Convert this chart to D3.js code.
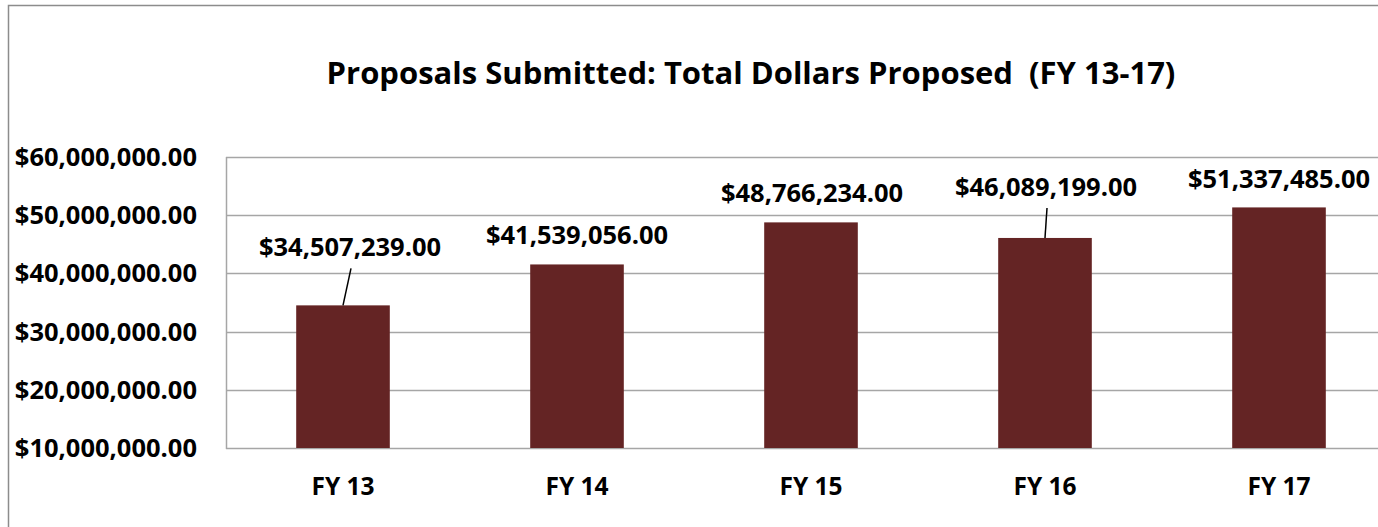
<!DOCTYPE html>
<html>
<head>
<meta charset="utf-8">
<script src="https://d3js.org/d3.v7.min.js"></script>
<style>
  body { margin: 0; background: #fff; }
  text { font-family: "Open Sans", "Noto Sans", sans-serif; font-weight: bold; fill: #000; }
</style>
</head>
<body>
<div id="chart"></div>
<script>
// Width and height of chart
var width = 1378;
var height = 527;

// data
var years = ["FY 13", "FY 14", "FY 15", "FY 16", "FY 17"];
var dollars = [34507239, 41539056, 48766234, 46089199, 51337485];
var yTicks = [10000000, 20000000, 30000000, 40000000, 50000000, 60000000];

// how far each value label sits above its bar (px), and sideways nudge
var labelLift = [49, 20, 20, 42, 19];
var labelShift = [7, 0, 1, 1, 0];

var barColor = "#642424";
var gridColor = "#a6a6a6";

var svg = d3.select("#chart")
  .append("svg")
  .attr("width", width)
  .attr("height", height);

// outer chart border (runs off the right and bottom)
svg.append("rect")
  .attr("x", 8.5)
  .attr("y", 5.5)
  .attr("width", 1500)
  .attr("height", 700)
  .style("fill", "none")
  .style("stroke", "#8c8c8c")
  .style("stroke-width", 1.5);

// title
svg.append("text")
  .attr("x", 751)
  .attr("y", 84)
  .attr("text-anchor", "middle")
  .style("font-size", "31px")
  .style("white-space", "pre")
  .text("Proposals Submitted: Total Dollars Proposed  (FY 13-17)");

// scales
var x = d3.scaleBand()
  .domain(years)
  .range([226, 1396])
  .paddingInner(0.6)
  .paddingOuter(0.3);

var y = d3.scaleLinear()
  .domain([10000000, 60000000])
  .range([448, 157]);

var money = d3.format("$,.2f");

// gridlines
svg.append("g")
  .selectAll("line")
  .data(yTicks)
  .enter()
  .append("line")
  .attr("x1", 226)
  .attr("x2", width)
  .attr("y1", function(d) { return Math.round(y(d)) + 0.5; })
  .attr("y2", function(d) { return Math.round(y(d)) + 0.5; })
  .style("stroke", gridColor)
  .style("stroke-width", 1.5);

// left edge of plot area
svg.append("line")
  .attr("x1", 226.5)
  .attr("x2", 226.5)
  .attr("y1", y(60000000))
  .attr("y2", y(10000000) + 1)
  .style("stroke", gridColor)
  .style("stroke-width", 1.5);

// y tick labels
svg.append("g")
  .selectAll("text")
  .data(yTicks)
  .enter()
  .append("text")
  .attr("x", 197)
  .attr("y", function(d) { return y(d) + 9; })
  .attr("text-anchor", "end")
  .style("font-size", "25.5px")
  .text(function(d) { return money(d); });

// bars
svg.append("g")
  .selectAll("rect")
  .data(dollars)
  .enter()
  .append("rect")
  .attr("x", function(d, i) { return x(years[i]); })
  .attr("y", function(d) { return y(d); })
  .attr("width", x.bandwidth())
  .attr("height", function(d) { return y(10000000) - y(d); })
  .style("fill", barColor);

// category labels
svg.append("g")
  .selectAll("text")
  .data(years)
  .enter()
  .append("text")
  .attr("x", function(d) { return x(d) + x.bandwidth() / 2; })
  .attr("y", 495)
  .attr("text-anchor", "middle")
  .style("font-size", "24.5px")
  .text(function(d) { return d; });

// leader lines for labels that were pulled away from their bar
svg.append("g")
  .selectAll("line")
  .data(dollars.filter(function(d, i) { return labelLift[i] > 30; }))
  .enter()
  .append("line")
  .attr("x1", function(d) {
    var i = dollars.indexOf(d);
    return x(years[i]) + x.bandwidth() / 2 + labelShift[i] + 1;
  })
  .attr("y1", function(d) { return y(d) - labelLift[dollars.indexOf(d)] + 12; })
  .attr("x2", function(d) { return x(years[dollars.indexOf(d)]) + x.bandwidth() / 2; })
  .attr("y2", function(d) { return y(d); })
  .style("stroke", "#000")
  .style("stroke-width", 1.5);

// value labels
svg.append("g")
  .selectAll("text")
  .data(dollars)
  .enter()
  .append("text")
  .attr("x", function(d, i) { return x(years[i]) + x.bandwidth() / 2 + labelShift[i]; })
  .attr("y", function(d, i) { return y(d) - labelLift[i]; })
  .attr("text-anchor", "middle")
  .style("font-size", "25.5px")
  .text(function(d) { return money(d); });
</script>
</body>
</html>
